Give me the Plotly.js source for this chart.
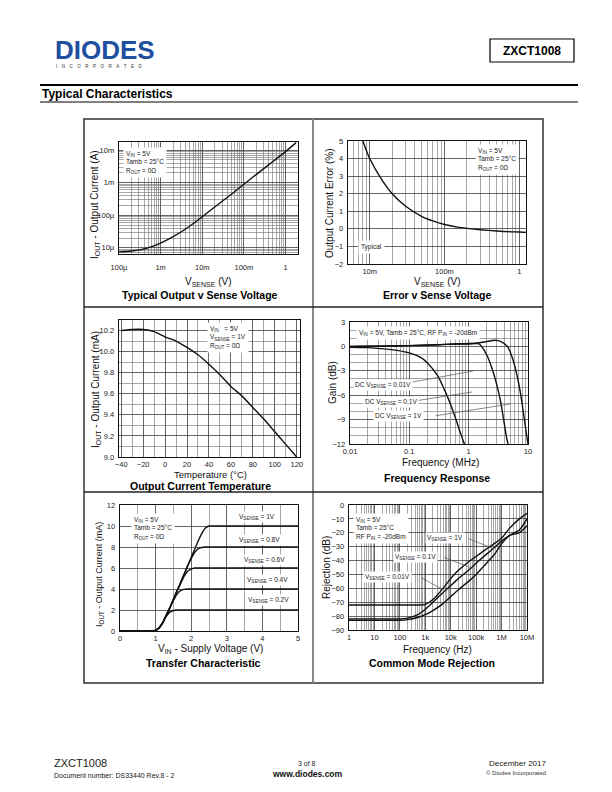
<!DOCTYPE html>
<html><head><meta charset="utf-8">
<script src="https://cdn.plot.ly/plotly-3.0.1.min.js"></script>
<style>html,body{margin:0;padding:0;background:#fff}#chart{width:612px;height:792px}</style>
</head><body><div id="chart"></div>
<script>
// ================= DATA =================
// Panel 1: Typical Output v Sense Voltage
const p1Vsense = [1e-4, 2e-4, 5e-4, 1e-3, 2e-3, 5e-3, 1e-2, 2e-2, 5e-2, 0.1, 0.2, 0.5, 1, 1.8];
const p1Iout   = [7.5e-6, 8e-6, 1.0e-5, 1.4e-5, 2.2e-5, 4.6e-5, 9e-5, 1.8e-4, 4.4e-4, 9e-4, 1.8e-3, 4.5e-3, 9e-3, 1.7e-2];
const p1XTickVals = [1e-4, 1e-3, 1e-2, 1e-1, 1];
const p1XTickText = ['100\u00b5', '1m', '10m', '100m', '1'];
const p1YTickVals = [1e-5, 1e-4, 1e-3, 1e-2];
const p1YTickText = ['10\u00b5', '100\u00b5', '1m', '10m'];

// Panel 2: Error v Sense Voltage
const p2Vsense = [0.0081, 0.01, 0.015, 0.02, 0.03, 0.05, 0.07, 0.1, 0.15, 0.2, 0.3, 0.5, 0.7, 1, 1.25];
const p2Error  = [5, 4.0, 2.7, 2.0, 1.3, 0.7, 0.45, 0.25, 0.1, 0.03, -0.05, -0.12, -0.16, -0.18, -0.2];
const p2XTickVals = [0.01, 0.1, 1];
const p2XTickText = ['10m', '100m', '1'];

// Panel 3: Output Current Temperature
const p3Temp = [-40, -30, -20, -10, 0, 10, 20, 30, 40, 50, 60, 70, 80, 90, 100, 110, 120];
const p3Iout = [10.20, 10.21, 10.21, 10.19, 10.14, 10.10, 10.04, 9.97, 9.88, 9.78, 9.67, 9.58, 9.47, 9.36, 9.24, 9.12, 9.0];

// Panel 4: Frequency Response
const p4Freq001 = [0.01, 0.02, 0.05, 0.1, 0.15, 0.2, 0.3, 0.4, 0.5, 0.6, 0.7, 0.8, 0.85];
const p4Gain001 = [-0.1, -0.15, -0.4, -0.8, -1.3, -2.0, -3.6, -5.5, -7.2, -8.8, -10.3, -11.5, -12];
const p4Freq01  = [0.01, 0.05, 0.1, 0.3, 0.6, 1, 1.5, 2, 2.5, 3, 3.5, 4, 4.3, 4.6];
const p4Gain01  = [0, 0.05, 0.1, 0.2, 0.3, 0.3, 0.3, -1.0, -2.8, -4.8, -7.0, -9.6, -11, -12];
const p4Freq1   = [0.01, 0.05, 0.1, 0.3, 0.6, 1, 1.5, 2, 2.8, 3.5, 4.5, 5.5, 6.5, 7.5, 8.5, 9.3, 10];
const p4Gain1   = [0, 0.05, 0.1, 0.2, 0.3, 0.35, 0.45, 0.6, 0.75, 0.6, 0, -1.5, -3.5, -5.8, -8.5, -10.5, -12];
const p4XTickVals = [0.01, 0.1, 1, 10];
const p4XTickText = ['0.01', '0.1', '1', '10'];

// Panel 5: Transfer Characteristic
const p5Vin  = [0, 0.9, 1.0, 1.1, 1.2, 1.3, 1.4, 1.5, 1.6, 1.7, 1.8, 1.9, 2.0, 2.1, 2.2, 2.3, 2.4, 2.5, 2.6, 3, 4, 5];
const p5I1V  = [0, 0, 0.05, 0.3, 0.8, 1.5, 2.2, 3.0, 3.8, 4.6, 5.4, 6.2, 7.0, 7.8, 8.6, 9.3, 9.8, 10.0, 10.0, 10.0, 10.0, 10.0];
const p5I08V = [0, 0, 0.05, 0.3, 0.8, 1.5, 2.2, 3.0, 3.8, 4.6, 5.4, 6.2, 6.9, 7.5, 7.85, 7.95, 8.0, 8.0, 8.0, 8.0, 8.0, 8.0];
const p5I06V = [0, 0, 0.05, 0.3, 0.8, 1.5, 2.2, 3.0, 3.8, 4.5, 5.2, 5.7, 5.9, 6.0, 6.0, 6.0, 6.0, 6.0, 6.0, 6.0, 6.0, 6.0];
const p5I04V = [0, 0, 0.05, 0.3, 0.8, 1.5, 2.2, 2.9, 3.5, 3.85, 3.97, 4.0, 4.0, 4.0, 4.0, 4.0, 4.0, 4.0, 4.0, 4.0, 4.0, 4.0];
const p5I02V = [0, 0, 0.05, 0.3, 0.8, 1.4, 1.8, 1.95, 2.0, 2.0, 2.0, 2.0, 2.0, 2.0, 2.0, 2.0, 2.0, 2.0, 2.0, 2.0, 2.0, 2.0];

// Panel 6: Common Mode Rejection
const p6Freq = [1, 10, 100, 200, 500, 1e3, 2e3, 5e3, 1e4, 2e4, 5e4, 1e5, 2e5, 5e5, 1e6, 2e6, 5e6, 1e7];
const p6RejA = [-72, -72, -72, -72, -72, -71.5, -68, -60, -53, -47, -41, -37, -33, -28, -24, -17, -10, -6];
const p6RejB = [-82, -82, -82, -81.5, -79, -75, -70, -63, -58, -53, -47, -42, -37, -31, -26, -22, -18, -10];
const p6RejC = [-83, -83, -83, -82.5, -81, -79, -76, -71, -66, -61, -55, -50, -44, -36, -28, -22, -20, -15];
const p6XTickVals = [1, 10, 100, 1e3, 1e4, 1e5, 1e6, 1e7];
const p6XTickText = ['1', '10', '100', '1k', '10k', '100k', '1M', '10M'];

// ================= LAYOUT HELPERS =================
const W = 612, H = 792;
const F = 'Liberation Sans, Arial, sans-serif';
const X = p => p / W;
const Y = p => 1 - p / H;
const GRID = '#404040', GRIDMINOR = '#6e6e6e';

function logMinors(lo, hi) {
  const v = [];
  for (let d = Math.floor(lo); d <= Math.ceil(hi); d++)
    for (let m = 2; m <= 9; m++) { const t = m * Math.pow(10, d); const l = Math.log10(t); if (l > lo && l < hi) v.push(t); }
  return v;
}
function ax(extra) {
  return Object.assign({
    showline: true, linecolor: '#111', linewidth: 1.3, mirror: true,
    ticks: '', showgrid: true, gridcolor: GRID, gridwidth: 0.8, zeroline: false,
    tickfont: { family: F, size: 7.5, color: '#222' }, fixedrange: true, ticklabelstandoff: 2
  }, extra);
}
function line(x, y, xa, ya) {
  return { x, y, xaxis: xa, yaxis: ya, mode: 'lines', type: 'scatter',
    line: { color: '#111', width: 1.4, shape: 'spline', smoothing: 0.6 }, hoverinfo: 'skip', showlegend: false };
}
function txt(x, y, text, o) {
  return Object.assign({ xref: 'paper', yref: 'paper', x: X(x), y: Y(y), text, showarrow: false,
    xanchor: 'left', yanchor: 'middle', font: { family: F, size: 7, color: '#222' } }, o || {});
}
function box(x, y, text, o) {
  return txt(x, y, text, Object.assign({ bgcolor: '#fff', borderpad: 2, align: 'left' }, o || {}));
}
function ytitle(x, y, text, size) {
  return txt(x, y, text, { textangle: -90, xanchor: 'center', font: { family: F, size: size || 9.5, color: '#111' } });
}
function xtitle(x, y, text, size) {
  return txt(x, y, text, { xanchor: 'center', font: { family: F, size: size || 10, color: '#111' } });
}
function ptitle(x, y, text) {
  return txt(x, y, '<b>' + text + '</b>', { xanchor: 'center', font: { family: F, size: 10.5, color: '#000' } });
}
function leader(xEnd, yEnd, xStart, yStart) {
  return { xref: 'paper', yref: 'paper', x: X(xEnd), y: Y(yEnd), ax: xStart - xEnd, ay: yStart - yEnd,
    axref: 'pixel', ayref: 'pixel', showarrow: true, arrowhead: 0, arrowwidth: 0.7, arrowcolor: '#555', text: '' };
}
function rect(x0, y0, x1, y1, color, w, fill) {
  return { type: 'rect', xref: 'paper', yref: 'paper', x0: X(x0), x1: X(x1), y0: Y(y1), y1: Y(y0),
    line: { color, width: w }, fillcolor: fill || 'rgba(0,0,0,0)' };
}
function hline(x0, x1, y, color, w) {
  return { type: 'line', xref: 'paper', yref: 'paper', x0: X(x0), x1: X(x1), y0: Y(y), y1: Y(y), line: { color, width: w } };
}
function vline(x, y0, y1, color, w) {
  return { type: 'line', xref: 'paper', yref: 'paper', x0: X(x), x1: X(x), y0: Y(y0), y1: Y(y1), line: { color, width: w } };
}
const minorLog = (lo, hi) => ({ tickmode: 'array', tickvals: logMinors(lo, hi), showgrid: true, gridcolor: GRIDMINOR, gridwidth: 0.6, ticks: '' });
const minorLin = d => ({ dtick: d, showgrid: true, gridcolor: GRIDMINOR, gridwidth: 0.6 });

// ================= TRACES =================
const data = [
  line(p1Vsense, p1Iout, 'x', 'y'),
  line(p2Vsense, p2Error, 'x2', 'y2'),
  line(p3Temp, p3Iout, 'x3', 'y3'),
  line(p4Freq001, p4Gain001, 'x4', 'y4'),
  line(p4Freq01, p4Gain01, 'x4', 'y4'),
  line(p4Freq1, p4Gain1, 'x4', 'y4'),
  line(p5Vin, p5I1V, 'x5', 'y5'),
  line(p5Vin, p5I08V, 'x5', 'y5'),
  line(p5Vin, p5I06V, 'x5', 'y5'),
  line(p5Vin, p5I04V, 'x5', 'y5'),
  line(p5Vin, p5I02V, 'x5', 'y5'),
  line(p6Freq, p6RejA, 'x6', 'y6'),
  line(p6Freq, p6RejB, 'x6', 'y6'),
  line(p6Freq, p6RejC, 'x6', 'y6')
];

const small = { family: F, size: 6.5, color: '#222' };

const layout = {
  width: W, height: H, margin: { l: 0, r: 0, t: 0, b: 0 },
  paper_bgcolor: '#fff', plot_bgcolor: '#fff', showlegend: false,
  font: { family: F },
  // Panel 1
  xaxis: ax({ domain: [X(119), X(298)], anchor: 'y', type: 'log', range: [-4, 0.3], ticklabelstandoff: 6,
    tickmode: 'array', tickvals: p1XTickVals, ticktext: p1XTickText, minor: minorLog(-4, 0.3) }),
  yaxis: ax({ domain: [Y(254), Y(142)], anchor: 'x', type: 'log', range: [-5.19, -1.75],
    tickmode: 'array', tickvals: p1YTickVals, ticktext: p1YTickText, minor: minorLog(-5.19, -1.75) }),
  // Panel 2
  xaxis2: ax({ domain: [X(348), X(526)], anchor: 'y2', type: 'log', range: [-2.29, 0.09], ticklabelstandoff: 0,
    tickmode: 'array', tickvals: p2XTickVals, ticktext: p2XTickText, minor: minorLog(-2.29, 0.09) }),
  yaxis2: ax({ domain: [Y(264), Y(141)], anchor: 'x2', range: [-2, 5], dtick: 1, tick0: 0 }),
  // Panel 3
  xaxis3: ax({ domain: [X(119), X(300)], anchor: 'y3', range: [-42, 123], dtick: 20, tick0: -40, ticklabelstandoff: 0,
    minor: minorLin(10) }),
  yaxis3: ax({ domain: [Y(457), Y(320)], anchor: 'x3', range: [9.0, 10.3], dtick: 0.2, tick0: 9.0, tickformat: '.1f',
    minor: minorLin(0.1) }),
  // Panel 4
  xaxis4: ax({ domain: [X(350), X(528)], anchor: 'y4', type: 'log', range: [-2, 1], ticklabelstandoff: 0,
    tickmode: 'array', tickvals: p4XTickVals, ticktext: p4XTickText, minor: minorLog(-2, 1) }),
  yaxis4: ax({ domain: [Y(444), Y(322)], anchor: 'x4', range: [-12, 3], dtick: 3, tick0: 0,
    minor: minorLin(1) }),
  // Panel 5
  xaxis5: ax({ domain: [X(120), X(298)], anchor: 'y5', range: [0, 5], dtick: 1, tick0: 0, ticklabelstandoff: 0,
    minor: minorLin(0.5) }),
  yaxis5: ax({ domain: [Y(631), Y(505)], anchor: 'x5', range: [0, 12], dtick: 2, tick0: 0 }),
  // Panel 6
  xaxis6: ax({ domain: [X(349), X(527)], anchor: 'y6', type: 'log', range: [0, 7], ticklabelstandoff: 0,
    tickmode: 'array', tickvals: p6XTickVals, ticktext: p6XTickText, minor: minorLog(0, 7) }),
  yaxis6: ax({ domain: [Y(630), Y(505)], anchor: 'x6', range: [-90, 0], dtick: 10, tick0: 0 }),

  shapes: [
    // header
    hline(40, 578, 85, '#000', 2.2),
    hline(40, 578, 102, '#000', 1),
    rect(490, 39, 574, 62, '#000', 1.2),
    // outer frame and dividers
    rect(84, 119, 543, 683, '#333', 1.5),
    vline(313, 119, 683, '#888', 2),
    hline(84, 543, 307, '#222', 1.5),
    hline(84, 543, 492, '#222', 1.5)
  ],

  annotations: [
    // header
    txt(53, 50, '<b>DIODES</b>', { font: { family: 'Liberation Sans, Arial', size: 26, color: '#1f4f9f' } }),
    txt(54, 67, 'I\u2002\u2002N\u2002\u2002C\u2002\u2002O\u2002\u2002R\u2002\u2002P\u2002\u2002O\u2002\u2002R\u2002\u2002A\u2002\u2002T\u2002\u2002E\u2002\u2002D',
      { font: { family: F, size: 4.5, color: '#333' } }),
    txt(532, 51, '<b>ZXCT1008</b>', { xanchor: 'center', font: { family: F, size: 12, color: '#000' } }),
    txt(40, 94, '<b>Typical Characteristics</b>', { font: { family: F, size: 12, color: '#000' } }),

    // Panel 1 texts
    ytitle(95, 205, 'I<sub>OUT</sub> - Output Current (A)', 10),
    xtitle(208, 282, 'V<sub>SENSE</sub> (V)'),
    ptitle(200, 295, 'Typical Output v Sense Voltage'),
    box(123, 163, 'V<sub>IN</sub> = 5V<br>Tamb = 25\u00b0C<br>R<sub>OUT</sub> = 0\u03a9', { font: small }),

    // Panel 2 texts
    ytitle(329, 204, 'Output Current Error (%)', 10),
    xtitle(437, 282, 'V<sub>SENSE</sub> (V)'),
    ptitle(437, 295, 'Error v Sense Voltage'),
    box(475, 160, 'V<sub>IN</sub> = 5V<br>Tamb = 25\u00b0C<br>R<sub>OUT</sub> = 0\u03a9', { font: small }),
    box(358, 247, 'Typical', { font: small }),

    // Panel 3 texts
    ytitle(96, 390, 'I<sub>OUT</sub> - Output Current (mA)', 10),
    xtitle(210, 475, 'Temperature (\u00b0C)', 9.5),
    ptitle(200, 486, 'Output Current Temperature'),
    box(207, 337, 'V<sub>IN</sub>   = 5V<br>V<sub>SENSE</sub> = 1V<br>R<sub>OUT</sub> = 0\u03a9', { font: small }),

    // Panel 4 texts
    ytitle(332, 383, 'Gain (dB)', 10),
    xtitle(440, 463, 'Frequency (MHz)'),
    ptitle(437, 478, 'Frequency Response'),
    box(356, 333, 'V<sub>IN</sub> = 5V, Tamb = 25\u00b0C, RF P<sub>IN</sub> = -20dBm', { font: small }),
    leader(473, 371, 396, 385),
    leader(472, 392, 408, 402),
    leader(510, 404, 434, 416),
    box(353, 385, 'DC V<sub>SENSE</sub> = 0.01V', { font: small, borderpad: 1 }),
    box(363, 402, 'DC V<sub>SENSE</sub> = 0.1V', { font: small, borderpad: 1 }),
    box(373, 416, 'DC V<sub>SENSE</sub> = 1V', { font: small, borderpad: 1 }),

    // Panel 5 texts
    ytitle(99, 575, 'I<sub>OUT</sub> - Output Current (mA)', 9),
    xtitle(210, 649, 'V<sub>IN</sub> - Supply Voltage (V)'),
    ptitle(203, 663, 'Transfer Characteristic'),
    box(131, 528, 'V<sub>IN</sub> = 5V<br>Tamb = 25\u00b0C<br>R<sub>OUT</sub> = 0\u03a9', { font: small }),
    box(237, 517, 'V<sub>SENSE</sub> = 1V', { font: small, borderpad: 1 }),
    box(237, 540, 'V<sub>SENSE</sub> = 0.8V', { font: small, borderpad: 1 }),
    box(242, 560, 'V<sub>SENSE</sub> = 0.6V', { font: small, borderpad: 1 }),
    box(245, 580, 'V<sub>SENSE</sub> = 0.4V', { font: small, borderpad: 1 }),
    box(246, 600, 'V<sub>SENSE</sub> = 0.2V', { font: small, borderpad: 1 }),

    // Panel 6 texts
    ytitle(326, 568, 'Rejection (dB)', 10),
    xtitle(437, 649, 'Frequency (Hz)'),
    ptitle(432, 663, 'Common Mode Rejection'),
    box(353, 528, 'V<sub>IN</sub> = 5V<br>Tamb = 25\u00b0C<br>RF P<sub>IN</sub> = -20dBm', { font: small }),
    leader(492, 548, 467, 538),
    leader(472, 568, 443, 557),
    leader(440, 588, 420, 577),
    box(425, 538, 'V<sub>SENSE</sub> = 1V', { font: small, borderpad: 1 }),
    box(393, 557, 'V<sub>SENSE</sub> = 0.1V', { font: small, borderpad: 1 }),
    box(363, 577, 'V<sub>SENSE</sub> = 0.01V', { font: small, borderpad: 1 }),

    // footer
    txt(52, 763, 'ZXCT1008', { font: { family: F, size: 11, color: '#222' } }),
    txt(52, 775, 'Document number: DS33440 Rev.8 - 2', { font: { family: F, size: 7, color: '#222' } }),
    txt(307, 763, '3 of 8', { xanchor: 'center', font: { family: F, size: 7, color: '#222' } }),
    txt(307, 774, '<b>www.diodes.com</b>', { xanchor: 'center', font: { family: F, size: 8.5, color: '#111' } }),
    txt(548, 763, 'December 2017', { xanchor: 'right', font: { family: F, size: 8, color: '#222' } }),
    txt(548, 773, '\u00a9 Diodes Incorporated', { xanchor: 'right', font: { family: F, size: 6, color: '#333' } })
  ]
};

Plotly.newPlot('chart', data, layout, { staticPlot: true, displayModeBar: false });
</script>
</body></html>
